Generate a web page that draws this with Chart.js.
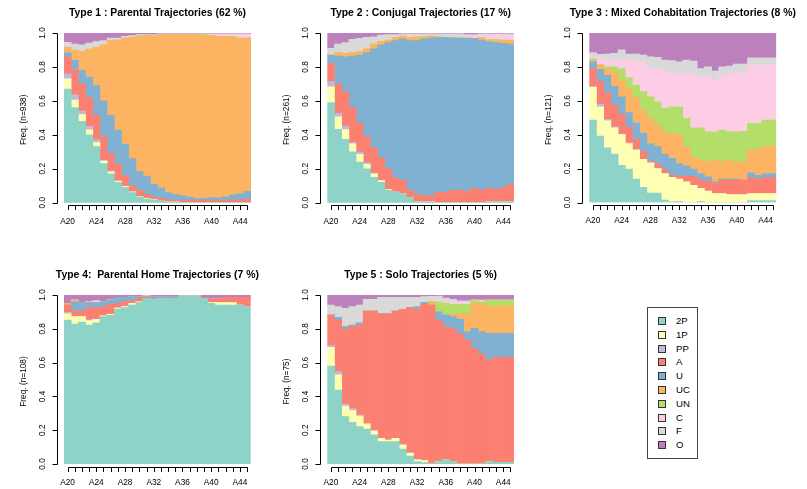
<!DOCTYPE html>
<html>
<head>
<meta charset="utf-8">
<script src="https://cdn.jsdelivr.net/npm/chart.js@4/dist/chart.umd.min.js"></script>
<style>
  html, body { margin: 0; padding: 0; background: #fff; }
  #page { position: relative; width: 807px; height: 489px; overflow: hidden; background: #fff;
          font-family: "Liberation Sans", Arial, Helvetica, sans-serif; }
  #page canvas { position: absolute; }
  #legend { position: absolute; left: 647px; top: 307px; width: 51px; height: 152px;
            border: 1px solid #444; box-sizing: border-box; }
  .item { position: absolute; left: 10px; height: 14px; line-height: 14px; font-size: 9.6px; color: #000; white-space: nowrap; }
  .item i { position: absolute; left: 0; top: 3px; width: 8px; height: 8px; box-sizing: border-box; border: 1px solid #333; }
  .item span { position: absolute; left: 18px; top: 0; }
</style>
</head>
<body>
<div id="page">
  <div id="legend"></div>
</div>
<script>
// ---- categories and labels ----
const ages = ['A20','A21','A22','A23','A24','A25','A26','A27','A28','A29','A30','A31','A32',
              'A33','A34','A35','A36','A37','A38','A39','A40','A41','A42','A43','A44','A45'];
const xTickLabels = ['A20','A24','A28','A32','A36','A40','A44'];
const yTickValues = [0, 0.2, 0.4, 0.6, 0.8, 1.0];
const states = ['2P','1P','PP','A','U','UC','UN','C','F','O'];
const stateColors = ['#8DD3C7','#FFFFB3','#BEBADA','#FB8072','#80B1D3',
                     '#FDB462','#B3DE69','#FCCDE5','#D9D9D9','#BC80BD'];

const titles = ['Type 1 : Parental Trajectories (62 %)',
                'Type 2 : Conjugal Trajectories (17 %)',
                'Type 3 : Mixed Cohabitation Trajectories (8 %)',
                'Type 4:  Parental Home Trajectories (7 %)',
                'Type 5 : Solo Trajectories (5 %)'];
const yTitles = ['Freq. (n=938)','Freq. (n=261)','Freq. (n=121)','Freq. (n=108)','Freq. (n=75)'];

// ---- state frequencies by age (one row per age, columns in `states` order) ----
const type1 = [
  [.67,.06,.03,.10,.025,.03,0,0,.03,.055],
  [.56,.045,.03,.15,.055,.06,0,0,.035,.065],
  [.48,.04,.02,.16,.08,.11,0,0,.04,.07],
  [.40,.03,.02,.17,.12,.165,0,0,.035,.06],
  [.33,.025,.015,.145,.175,.225,0,0,.035,.05],
  [.23,.015,.005,.14,.21,.33,0,0,.025,.045],
  [.17,.012,.004,.104,.225,.44,0,0,.015,.03],
  [.12,.008,0,.10,.20,.53,0,0,.012,.03],
  [.09,.006,0,.064,.185,.625,0,0,.01,.02],
  [.06,.004,0,.036,.16,.715,0,0,.01,.015],
  [.035,.003,0,.035,.11,.797,.005,0,.005,.01],
  [.02,.005,0,.025,.107,.828,0,0,.005,.01],
  [.015,.003,0,.015,.077,.875,0,0,.005,.01],
  [.01,0,0,.014,.063,.903,0,0,.005,.005],
  [.005,0,0,.013,.042,.93,0,0,.005,.005],
  [.005,0,0,.01,.033,.942,0,0,.005,.005],
  [0,0,0,.014,.026,.95,0,0,.005,.005],
  [0,0,0,.014,.019,.957,0,0,.005,.005],
  [0,0,0,.014,.01,.966,0,0,.005,.005],
  [0,0,0,.014,.01,.961,.005,0,.005,.005],
  [0,0,0,.014,.014,.957,0,.005,.005,.005],
  [0,0,0,.014,.014,.952,0,.01,.005,.005],
  [0,0,0,.014,.02,.946,0,.01,.005,.005],
  [0,0,0,.016,.031,.928,.005,.01,.005,.005],
  [0,0,0,.018,.035,.917,0,.02,.005,.005],
  [0,0,0,.02,.047,.903,0,.02,.005,.005]
];
const type2 = [
  [.59,.093,.03,.107,.05,0,0,.005,.035,.09],
  [.433,.073,.02,.174,.164,.02,0,0,.051,.065],
  [.374,.057,.02,.202,.207,.02,0,0,.063,.057],
  [.30,.047,.008,.205,.304,.022,0,0,.077,.037],
  [.24,.045,.014,.168,.403,.02,0,0,.078,.032],
  [.20,.026,.01,.154,.494,.023,0,0,.067,.026],
  [.15,.02,.004,.149,.584,.028,0,0,.043,.022],
  [.12,.01,0,.136,.663,.02,0,0,.039,.012],
  [.073,.005,0,.122,.743,.016,0,0,.031,.01],
  [.063,0,0,.083,.809,.017,0,.005,.013,.01],
  [.053,0,0,.079,.833,.017,0,.005,.008,.005],
  [.03,0,0,.043,.882,.019,0,.005,.016,.005],
  [.006,0,0,.044,.905,.023,0,0,.017,.005],
  [.005,0,0,.035,.925,.01,.005,0,.015,.005],
  [.005,0,0,.035,.932,.01,0,0,.013,.005],
  [0,0,0,.063,.91,.005,0,0,.017,.005],
  [0,0,0,.06,.914,0,0,0,.021,.005],
  [0,0,0,.073,.897,0,.005,0,.02,.005],
  [0,0,0,.073,.897,0,0,.005,.02,.005],
  [0,0,0,.067,.903,0,0,.005,.015,.01],
  [0,0,0,.085,.883,0,0,.012,.01,.01],
  [0,0,0,.073,.886,.012,0,.014,.01,.005],
  [.005,0,0,.08,.865,.01,0,.025,.01,.005],
  [.005,0,0,.072,.866,.01,.01,.022,.01,.005],
  [.005,0,0,.082,.852,.02,0,.026,.01,.005],
  [.005,0,0,.103,.827,.02,0,.03,.01,.005]
];
const type3 = [
  [.486,.194,.007,.103,.04,.01,.008,0,.036,.116],
  [.392,.173,.015,.133,.072,.025,.005,.041,.018,.126],
  [.323,.159,.008,.156,.104,.035,.015,.044,.032,.124],
  [.285,.156,.006,.126,.112,.085,.03,.04,.04,.12],
  [.22,.18,.004,.118,.102,.096,.07,.05,.06,.10],
  [.197,.151,.004,.095,.083,.14,.065,.105,.036,.124],
  [.138,.172,.004,.058,.098,.15,.073,.137,.046,.124],
  [.089,.165,0,.049,.107,.135,.109,.176,.04,.13],
  [.055,.179,0,.01,.104,.152,.124,.166,.07,.14],
  [.055,.145,0,.03,.10,.127,.137,.191,.071,.144],
  [.014,.157,0,.024,.09,.132,.138,.217,.068,.16],
  [.004,.144,0,.013,.099,.147,.158,.197,.075,.163],
  [.005,.133,0,.019,.073,.168,.163,.201,.068,.17],
  [0,.122,0,.033,.062,.113,.166,.266,.078,.16],
  [0,.102,0,.053,.042,.073,.171,.321,.073,.165],
  [.005,.078,0,.049,.039,.079,.191,.291,.058,.21],
  [0,.067,0,.059,.026,.088,.177,.325,.058,.20],
  [0,.053,0,.059,.01,.128,.167,.305,.054,.224],
  [0,.053,0,.079,.006,.102,.187,.325,.048,.20],
  [0,.047,0,.085,.006,.112,.167,.335,.053,.195],
  [0,.047,0,.085,.006,.102,.177,.349,.051,.183],
  [0,.047,0,.085,0,.108,.18,.346,.051,.183],
  [.012,.041,0,.092,.03,.138,.154,.344,.043,.146],
  [.012,.041,0,.088,.02,.152,.154,.344,.043,.146],
  [.012,.041,0,.094,.024,.162,.153,.325,.043,.146],
  [.012,.041,0,.094,.024,.162,.153,.325,.043,.146]
];
const type4 = [
  [.852,.036,.01,.043,0,.01,0,0,0,.049],
  [.828,.044,0,.035,.053,.01,0,0,0,.03],
  [.84,.032,0,.035,.048,0,0,0,0,.045],
  [.822,.026,.005,.072,.03,0,0,.005,0,.04],
  [.836,.02,0,.069,.03,0,0,.01,0,.035],
  [.872,.005,0,.054,.029,0,0,0,0,.04],
  [.88,.005,0,.06,.025,0,0,0,0,.03],
  [.917,.006,0,.028,.035,0,0,0,0,.014],
  [.925,.006,.004,.029,.022,0,0,0,0,.014],
  [.941,.01,0,.015,.024,0,0,0,0,.01],
  [.955,.005,0,.024,.006,0,0,0,0,.01],
  [.98,0,0,.006,.004,0,0,.005,0,.005],
  [.97,0,0,.004,.016,0,0,0,0,.01],
  [.976,0,0,0,.014,0,0,0,0,.01],
  [.976,0,0,0,.014,0,0,0,0,.01],
  [.976,0,0,0,.014,0,0,0,0,.01],
  [.994,0,0,0,0,0,0,0,0,.006],
  [.994,0,0,0,0,0,0,0,0,.006],
  [.994,0,0,0,0,0,0,0,0,.006],
  [.98,0,0,.006,0,0,0,0,0,.014],
  [.95,.005,0,.021,0,0,0,0,0,.024],
  [.941,.014,0,.021,0,0,0,0,0,.024],
  [.941,.014,0,.031,0,0,0,0,0,.014],
  [.941,.014,0,.031,0,0,0,0,0,.014],
  [.941,0,0,.045,0,0,0,0,0,.014],
  [.931,0,0,.055,0,0,0,0,0,.014]
];
const type5 = [
  [.58,.11,.01,.178,.004,0,0,0,.059,.059],
  [.438,.089,.02,.305,.016,0,0,0,.063,.069],
  [.28,.063,.012,.444,.014,0,0,0,.108,.079],
  [.247,.069,.014,.483,.009,0,0,0,.109,.069],
  [.221,.063,.006,.532,.014,0,0,0,.105,.059],
  [.207,.03,0,.668,0,0,0,0,.07,.025],
  [.172,.025,0,.708,0,0,0,0,.07,.025],
  [.132,.02,0,.736,0,0,0,0,.098,.014],
  [.132,.01,0,.746,0,0,0,0,.098,.014],
  [.132,.02,0,.753,0,0,0,0,.081,.014],
  [.089,.023,.006,.797,0,0,0,0,.071,.014],
  [.047,.016,.006,.856,0,0,0,0,.061,.014],
  [.014,.01,.004,.887,.015,0,0,0,.056,.014],
  [.008,.012,0,.927,.01,0,0,0,.033,.01],
  [0,0,0,.941,0,.016,.005,0,.03,.008],
  [.014,0,0,.838,.049,0,.059,.01,.024,.006],
  [.024,0,0,.789,.069,0,.07,.01,.02,.018],
  [.014,0,0,.789,.069,.015,.058,.01,.02,.025],
  [0,0,0,.769,.087,.034,.055,.01,.01,.035],
  [0,0,0,.734,.049,.107,.055,.01,.01,.035],
  [0,0,0,.684,.119,.147,.02,0,0,.03],
  [0,0,0,.651,.132,.167,.01,.005,.005,.03],
  [.014,0,0,.601,.158,.162,.035,0,0,.03],
  [.01,0,0,.621,.142,.162,.035,0,0,.03],
  [.01,0,0,.621,.142,.162,.035,0,0,.03],
  [.01,0,0,.621,.142,.162,.035,0,0,.03]
];

// ---- panel placement: canvas box and plotting region, in page pixels ----
const panels = [
  { rows: type1, box: [0, 0, 268, 244],   area: [64, 33, 251, 202.7] },
  { rows: type2, box: [268, 0, 268, 244], area: [327.3, 33, 514, 202.7] },
  { rows: type3, box: [536, 0, 271, 244], area: [589.3, 33, 776.3, 202.5] },
  { rows: type4, box: [0, 262, 268, 227], area: [64, 295, 250.7, 464] },
  { rows: type5, box: [268, 262, 268, 227], area: [327.3, 295, 514, 464] }
];

const FONT = '"Liberation Sans", Arial, Helvetica, sans-serif';

// R-style axes, title and y-axis label, drawn from the chart's own scales
const baseAxes = {
  id: 'baseAxes',
  afterDraw(chart, args, opts) {
    const { ctx, chartArea: a, scales: { x, y } } = chart;
    ctx.save();
    ctx.strokeStyle = '#000';
    ctx.fillStyle = '#000';
    ctx.lineWidth = 1;

    // y axis
    const ax = Math.round(a.left - 7) + 0.5;
    const y0 = y.getPixelForValue(0), y1 = y.getPixelForValue(1);
    ctx.beginPath();
    ctx.moveTo(ax, Math.round(y0) + 0.5);
    ctx.lineTo(ax, Math.round(y1) + 0.5);
    yTickValues.forEach(v => {
      const py = Math.round(y.getPixelForValue(v)) + 0.5;
      ctx.moveTo(ax, py);
      ctx.lineTo(ax - 5, py);
    });
    ctx.stroke();

    ctx.font = '8.3px ' + FONT;
    ctx.textAlign = 'center';
    ctx.textBaseline = 'middle';
    yTickValues.forEach(v => {
      const py = y.getPixelForValue(v);
      ctx.save();
      ctx.translate(a.left - 21.5, py);
      ctx.rotate(-Math.PI / 2);
      ctx.fillText(v.toFixed(1), 0, 0);
      ctx.restore();
    });

    // y axis title
    ctx.save();
    ctx.translate(a.left - 40.5, (y0 + y1) / 2 + 2);
    ctx.rotate(-Math.PI / 2);
    ctx.fillText(opts.yTitle, 0, 0);
    ctx.restore();

    // x axis
    const ay = Math.round(a.bottom + 2.5) + 0.5;
    const first = Math.round(x.getPixelForValue(0)) + 0.5;
    const last = Math.round(x.getPixelForValue(ages.length - 1)) + 0.5;
    ctx.beginPath();
    ctx.moveTo(first, ay);
    ctx.lineTo(last, ay);
    ages.forEach((lab, i) => {
      const px = Math.round(x.getPixelForValue(i)) + 0.5;
      ctx.moveTo(px, ay);
      ctx.lineTo(px, ay + 4.5);
    });
    ctx.stroke();
    ages.forEach((lab, i) => {
      if (xTickLabels.includes(lab)) {
        ctx.fillText(lab, x.getPixelForValue(i), a.bottom + 18.7);
      }
    });

    // panel title
    ctx.font = 'bold 10.4px ' + FONT;
    ctx.fillText(opts.title, (a.left + a.right) / 2, a.top - 20);
    ctx.restore();
  }
};

const page = document.getElementById('page');

panels.forEach((p, k) => {
  const [bx, by, bw, bh] = p.box;
  const [l, t, r, b] = p.area;
  const cv = document.createElement('canvas');
  cv.width = bw; cv.height = bh;
  cv.style.left = bx + 'px'; cv.style.top = by + 'px';
  cv.style.width = bw + 'px'; cv.style.height = bh + 'px';
  page.appendChild(cv);

  const datasets = states.map((s, j) => ({
    label: s,
    data: p.rows.map(row => row[j]),
    backgroundColor: stateColors[j],
    borderWidth: 0,
    barPercentage: 1,
    categoryPercentage: 1,
    stack: 'freq'
  }));

  new Chart(cv, {
    type: 'bar',
    data: { labels: ages, datasets },
    options: {
      responsive: false,
      animation: false,
      devicePixelRatio: 1,
      events: [],
      layout: { padding: { left: l - bx, top: t - by, right: bx + bw - r, bottom: by + bh - b } },
      scales: {
        x: { type: 'category', stacked: true, display: false, offset: true },
        y: { type: 'linear', stacked: true, display: false, min: 0, max: 1 }
      },
      plugins: {
        legend: { display: false },
        tooltip: { enabled: false },
        title: { display: false },
        baseAxes: { title: titles[k], yTitle: yTitles[k] }
      }
    },
    plugins: [baseAxes]
  });
});

// state legend
const legend = document.getElementById('legend');
states.forEach((s, j) => {
  const it = document.createElement('div');
  it.className = 'item';
  it.style.top = (6 + j * 13.8) + 'px';
  const sw = document.createElement('i');
  sw.style.background = stateColors[j];
  const tx = document.createElement('span');
  tx.textContent = s;
  it.appendChild(sw); it.appendChild(tx);
  legend.appendChild(it);
});
</script>
</body>
</html>
